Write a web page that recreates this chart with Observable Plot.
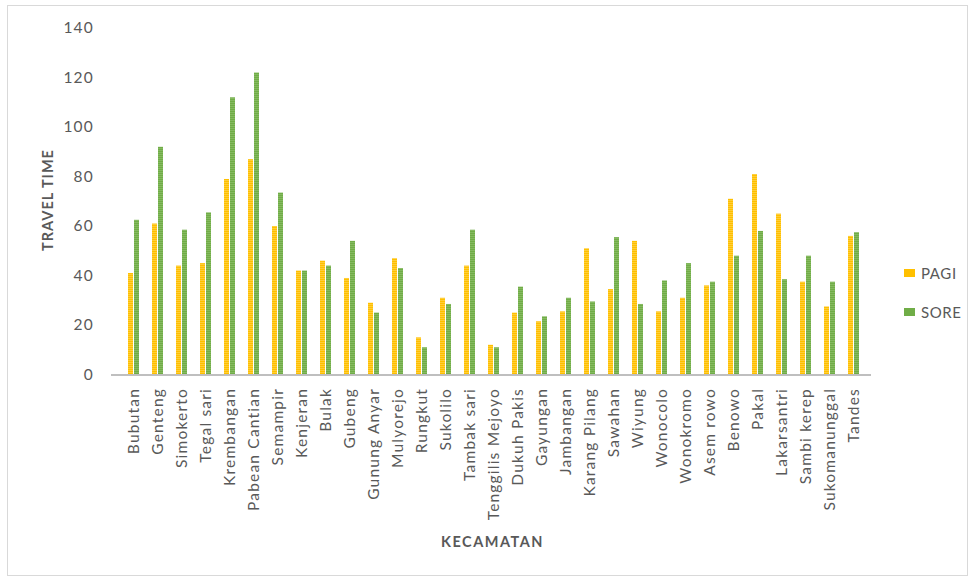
<!DOCTYPE html>
<html>
<head>
<meta charset="utf-8">
<script src="https://cdn.jsdelivr.net/npm/d3@7"></script>
<script src="https://cdn.jsdelivr.net/npm/@observablehq/plot@0.6"></script>
<style>
  html, body { margin: 0; padding: 0; background: #fff; }
  #wrap { position: relative; width: 974px; height: 578px; font-family: Lato, "Open Sans", sans-serif; color: #595959; }
  #frame { position: absolute; left: 7px; top: 5px; width: 961px; height: 571px; border: 1px solid #d9d9d9; box-sizing: border-box; pointer-events: none; }
  #chart { position: absolute; left: 0; top: 0; }
  #chart g[aria-label="x-axis tick label"] text { letter-spacing: 1.2px; }
  #chart g[aria-label="y-axis tick label"] text { letter-spacing: 1.2px; }
  .ttl { position: absolute; font-weight: bold; font-size: 14.5px; color: #595959; white-space: nowrap; }
  #ylab { left: 46.5px; top: 200px; letter-spacing: 1.0px; transform: translate(-50%, -50%) rotate(-90deg); }
  #xlab { left: 492.5px; top: 541px; letter-spacing: 1.5px; transform: translate(-50%, -50%); }
  .leg { position: absolute; left: 904px; display: flex; align-items: center; font-size: 15px; letter-spacing: 0.6px; }
  .sw { width: 11px; height: 8px; margin-right: 6px; }
</style>
</head>
<body>
<div id="wrap">
  <div id="chart"></div>
  <div class="ttl" id="ylab">TRAVEL TIME</div>
  <div class="ttl" id="xlab">KECAMATAN</div>
  <div class="leg" style="top:264px"><div class="sw" style="background:#FFC000"></div>PAGI</div>
  <div class="leg" style="top:303px"><div class="sw" style="background:#70AD47"></div>SORE</div>
  <div id="frame"></div>
</div>
<script>
// Travel time per kecamatan, morning (PAGI) and afternoon (SORE)
const kecamatan = [
  "Bubutan", "Genteng", "Simokerto", "Tegal sari", "Krembangan", "Pabean Cantian",
  "Semampir", "Kenjeran", "Bulak", "Gubeng", "Gunung Anyar", "Mulyorejo", "Rungkut",
  "Sukolilo", "Tambak sari", "Tenggilis Mejoyo", "Dukuh Pakis", "Gayungan", "Jambangan",
  "Karang Pilang", "Sawahan", "Wiyung", "Wonocolo", "Wonokromo", "Asem rowo", "Benowo",
  "Pakal", "Lakarsantri", "Sambi kerep", "Sukomanunggal", "Tandes"
];
const pagi = [
  41, 61, 44, 45, 79, 87,
  60, 42, 46, 39, 29, 47, 15,
  31, 44, 12, 25, 21.5, 25.5,
  51, 34.5, 54, 25.5, 31, 36, 71,
  81, 65, 37.5, 27.5, 56
];
const sore = [
  62.5, 92, 58.5, 65.5, 112, 122,
  73.5, 42, 44, 54, 25, 43, 11,
  28.5, 58.5, 11, 35.5, 23.5, 31,
  29.5, 55.5, 28.5, 38, 45, 37.5, 48,
  58, 38.5, 48, 37.5, 57.5
];
const yTicks = [0, 20, 40, 60, 80, 100, 120, 140];

const rows = kecamatan.map((k, i) => ({kecamatan: k, pagi: pagi[i], sore: sore[i]}));

const chart = Plot.plot({
  width: 974,
  height: 578,
  marginLeft: 114,
  marginRight: 100.5,
  marginTop: 28,
  marginBottom: 203.5,
  style: {fontFamily: "Lato, 'Open Sans', sans-serif", fontSize: "15.5px", color: "#595959", background: "transparent"},
  x: {domain: kecamatan, paddingInner: 0.56, paddingOuter: 0.28, label: null},
  y: {domain: [0, 140], label: null},
  marks: [
    Plot.barY(rows, {x: "kecamatan", y: "pagi", fill: "url(#fillPagi)", insetLeft: 0, insetRight: 6}),
    Plot.barY(rows, {x: "kecamatan", y: "sore", fill: "url(#fillSore)", insetLeft: 6, insetRight: 0}),
    Plot.ruleY([0], {stroke: "#bfbfbf", strokeWidth: 2, insetLeft: -3, insetRight: 2.5}),
    Plot.axisY({ticks: yTicks, tickSize: 0, tickPadding: 20.5, label: null, fill: "#595959"}),
    Plot.axisX({tickRotate: -90, tickSize: 0, tickPadding: 13, label: null, fill: "#595959"})
  ]
});

// striped fills for the two series
const ns = "http://www.w3.org/2000/svg";
const defs = document.createElementNS(ns, "defs");
function stripe(id, main, light) {
  const p = document.createElementNS(ns, "pattern");
  p.setAttribute("id", id);
  p.setAttribute("patternUnits", "userSpaceOnUse");
  p.setAttribute("width", 4);
  p.setAttribute("height", 2);
  const a = document.createElementNS(ns, "rect");
  a.setAttribute("width", 4); a.setAttribute("height", 2); a.setAttribute("fill", main);
  const b = document.createElementNS(ns, "rect");
  b.setAttribute("width", 4); b.setAttribute("height", 0.7); b.setAttribute("fill", light);
  p.appendChild(a); p.appendChild(b);
  defs.appendChild(p);
}
stripe("fillPagi", "#FFC000", "#FFD452");
stripe("fillSore", "#70AD47", "#8FC06C");
chart.insertBefore(defs, chart.firstChild);

document.getElementById("chart").appendChild(chart);
</script>
</body>
</html>
